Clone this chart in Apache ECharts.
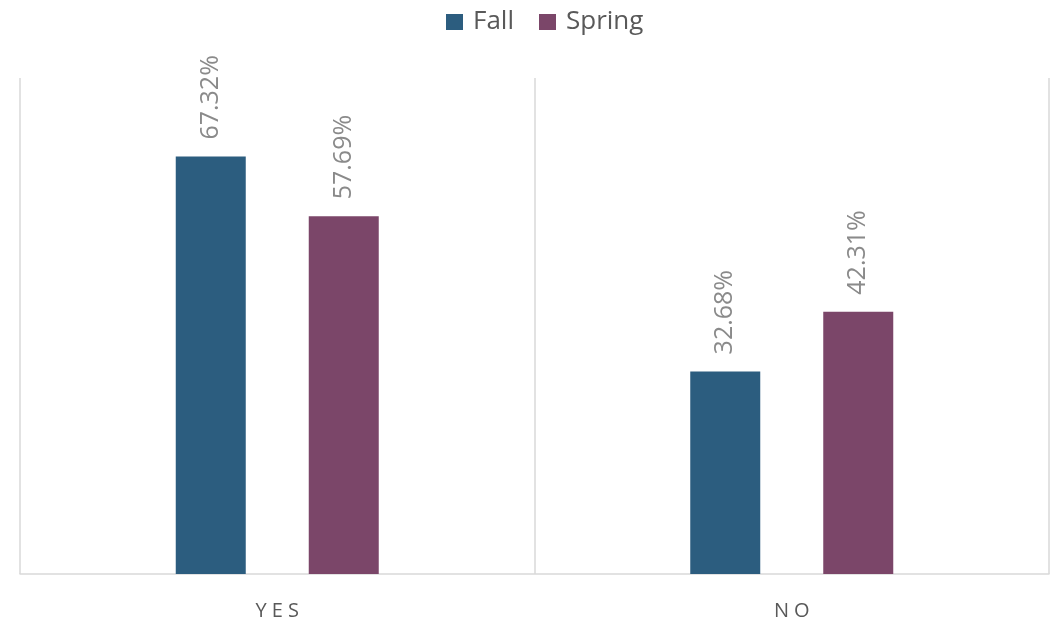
<!DOCTYPE html>
<html>
<head>
<meta charset="utf-8">
<script src="https://cdn.jsdelivr.net/npm/echarts@6/dist/echarts.min.js"></script>
<style>
  html, body { margin: 0; padding: 0; background: #fff; }
  #chart { width: 1051px; height: 625px; }
</style>
</head>
<body>
<div id="chart"></div>
<script>
// data
const categories = ['YES', 'NO']
const fallValues = [67.32, 32.68]
const springValues = [57.69, 42.31]
const seriesNames = ['Fall', 'Spring']

const chart = echarts.init(document.getElementById('chart'))

const labelStyle = {
  show: true,
  position: 'top',
  rotate: 90,
  align: 'left',
  verticalAlign: 'middle',
  distance: 17,
  color: '#8a8a8a',
  fontSize: 25,
  fontFamily: 'Open Sans',
  formatter: p => p.value.toFixed(2) + '%'
}

const option = {
  animation: false,
  backgroundColor: '#fff',
  legend: {
    top: 4,
    left: 441,
    itemWidth: 17,
    itemHeight: 16,
    itemGap: 25,
    icon: 'rect',
    textStyle: { fontSize: 26, color: '#595959', fontFamily: 'Open Sans', padding: [0, 0, 0, 5] },
    data: seriesNames
  },
  grid: { left: 20, right: 2, top: 78, bottom: 51 },
  xAxis: {
    type: 'category',
    data: categories,
    axisLine: { lineStyle: { color: '#d9d9d9', width: 1.5 } },
    axisTick: { show: false },
    splitLine: { show: true, interval: 0, lineStyle: { color: '#d9d9d9', width: 1.5 } },
    axisLabel: {
      margin: 27,
      fontSize: 20,
      color: '#595959',
      fontFamily: 'Open Sans',
      // spread the letters like the original
      formatter: v => v.split('').join('\u2005')
    }
  },
  yAxis: {
    type: 'value',
    min: 0,
    max: 80,
    show: false,
    splitLine: { show: false }
  },
  series: [
    {
      name: seriesNames[0],
      type: 'bar',
      data: fallValues,
      barWidth: 70,
      barGap: '90%',
      itemStyle: { color: '#2c5d7f' },
      label: labelStyle
    },
    {
      name: seriesNames[1],
      type: 'bar',
      data: springValues,
      barWidth: 70,
      itemStyle: { color: '#7b4669' },
      label: labelStyle
    }
  ]
}

chart.setOption(option)
</script>
</body>
</html>
